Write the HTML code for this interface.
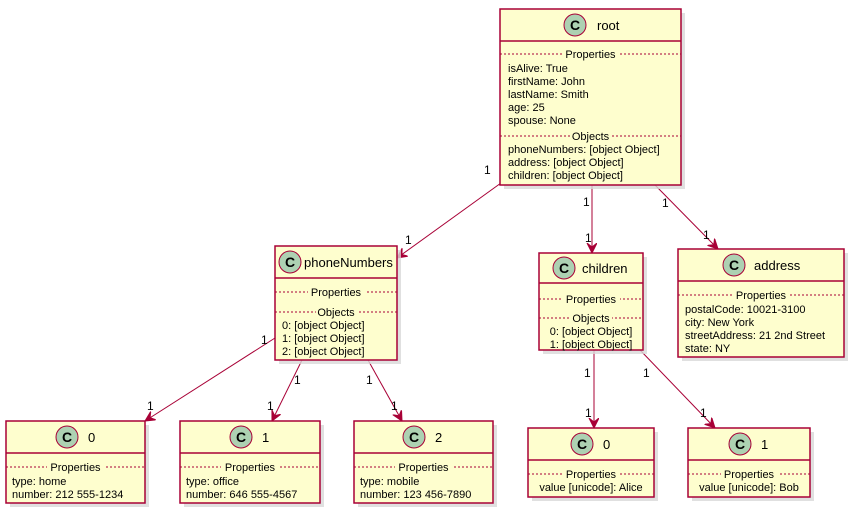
<!DOCTYPE html>
<html><head><meta charset="utf-8"><style>
html,body{margin:0;padding:0;background:#fff;}
svg{display:block;font-family:"Liberation Sans","DejaVu Sans",sans-serif;}
.b{fill:#FEFECE;stroke:#A80036;stroke-width:1.5;}
.s{fill:#d8d8d8;opacity:.8}
.h{stroke:#A80036;stroke-width:1.5;}
.d{stroke:#A80036;stroke-width:1;stroke-dasharray:2,2;}
.c{fill:#ADD1B2;stroke:#A80036;stroke-width:1;}
.t{font-size:11px;fill:#000;}
.n{font-size:13px;fill:#000;}
.l{stroke:#A80036;stroke-width:1;fill:none;}
.lb{font-size:12px;fill:#000;}
.lab{fill:#FEFECE;}
</style></head><body>
<svg width="854" height="513" viewBox="0 0 854 513" xmlns="http://www.w3.org/2000/svg">
<defs>
<marker id="a" markerWidth="12" markerHeight="12" refX="10" refY="5" orient="auto" markerUnits="userSpaceOnUse">
<path d="M0,0 L10,5 L0,10 L4,5 Z" fill="#A80036" stroke="#A80036" stroke-width="1"/>
</marker>
</defs>

<!-- edges -->
<line class="l" x1="501" y1="183" x2="397" y2="258" marker-end="url(#a)"/>
<line class="l" x1="592" y1="185" x2="592" y2="253" marker-end="url(#a)"/>
<line class="l" x1="655" y1="185" x2="718" y2="249" marker-end="url(#a)"/>
<line class="l" x1="275" y1="338" x2="145" y2="421" marker-end="url(#a)"/>
<line class="l" x1="302" y1="360" x2="272" y2="421" marker-end="url(#a)"/>
<line class="l" x1="368" y1="360" x2="402" y2="421" marker-end="url(#a)"/>
<line class="l" x1="594" y1="350" x2="594" y2="428" marker-end="url(#a)"/>
<line class="l" x1="640" y1="350" x2="715" y2="428" marker-end="url(#a)"/>
<g class="lb">
<text x="484" y="174">1</text><text x="405" y="244">1</text>
<text x="583" y="206">1</text><text x="585" y="242">1</text>
<text x="662" y="207">1</text><text x="703" y="239">1</text>
<text x="261" y="344">1</text><text x="147" y="410">1</text>
<text x="294" y="384">1</text><text x="267" y="410">1</text>
<text x="366" y="384">1</text><text x="391" y="410">1</text>
<text x="584" y="377">1</text><text x="585" y="417">1</text>
<text x="643" y="377">1</text><text x="700" y="417">1</text>
</g>

<!-- root -->
<rect class="s" x="504" y="13" width="181" height="176"/>
<rect class="b" x="500" y="9" width="181" height="176"/>
<line class="h" x1="500" y1="41" x2="681" y2="41"/>
<circle class="c" cx="575" cy="25" r="11"/><text x="575" y="30" text-anchor="middle" font-size="14" font-weight="bold">C</text>
<text class="n" x="597" y="30">root</text>
<line class="d" x1="500" y1="54" x2="681" y2="54"/>
<rect class="lab" x="562" y="48" width="57" height="12"/><text class="t" x="590.5" y="58" text-anchor="middle">Properties</text>
<text class="t" x="508" y="72">isAlive: True</text>
<text class="t" x="508" y="85">firstName: John</text>
<text class="t" x="508" y="98">lastName: Smith</text>
<text class="t" x="508" y="111">age: 25</text>
<text class="t" x="508" y="124">spouse: None</text>
<line class="d" x1="500" y1="136" x2="681" y2="136"/>
<rect class="lab" x="570" y="130" width="41" height="12"/><text class="t" x="590.5" y="140" text-anchor="middle">Objects</text>
<text class="t" x="508" y="153">phoneNumbers: [object Object]</text>
<text class="t" x="508" y="166">address: [object Object]</text>
<text class="t" x="508" y="179">children: [object Object]</text>

<!-- phoneNumbers -->
<rect class="s" x="279" y="250" width="122" height="114"/>
<rect class="b" x="275" y="246" width="122" height="114"/>
<line class="h" x1="275" y1="278" x2="397" y2="278"/>
<circle class="c" cx="290" cy="262" r="11"/><text x="290" y="267" text-anchor="middle" font-size="14" font-weight="bold">C</text>
<text class="n" x="304" y="267">phoneNumbers</text>
<line class="d" x1="275" y1="292" x2="397" y2="292"/>
<rect class="lab" x="308" y="286" width="57" height="12"/><text class="t" x="336" y="296" text-anchor="middle">Properties</text>
<line class="d" x1="275" y1="312" x2="397" y2="312"/>
<rect class="lab" x="316" y="306" width="41" height="12"/><text class="t" x="336" y="316" text-anchor="middle">Objects</text>
<text class="t" x="282" y="329">0: [object Object]</text>
<text class="t" x="282" y="342">1: [object Object]</text>
<text class="t" x="282" y="355">2: [object Object]</text>

<!-- children -->
<rect class="s" x="543" y="257" width="104" height="97"/>
<rect class="b" x="539" y="253" width="104" height="97"/>
<line class="h" x1="539" y1="283" x2="643" y2="283"/>
<circle class="c" cx="564" cy="268" r="11"/><text x="564" y="273" text-anchor="middle" font-size="14" font-weight="bold">C</text>
<text class="n" x="582" y="273">children</text>
<line class="d" x1="539" y1="299" x2="643" y2="299"/>
<rect class="lab" x="563" y="293" width="57" height="12"/><text class="t" x="591" y="303" text-anchor="middle">Properties</text>
<line class="d" x1="539" y1="318" x2="643" y2="318"/>
<rect class="lab" x="571" y="312" width="41" height="12"/><text class="t" x="591" y="322" text-anchor="middle">Objects</text>
<text class="t" x="591" y="335" text-anchor="middle">0: [object Object]</text>
<text class="t" x="591" y="348" text-anchor="middle">1: [object Object]</text>

<!-- address -->
<rect class="s" x="682" y="253" width="166" height="108"/>
<rect class="b" x="678" y="249" width="166" height="108"/>
<line class="h" x1="678" y1="281" x2="844" y2="281"/>
<circle class="c" cx="734" cy="265" r="11"/><text x="734" y="270" text-anchor="middle" font-size="14" font-weight="bold">C</text>
<text class="n" x="754" y="270">address</text>
<line class="d" x1="678" y1="295" x2="844" y2="295"/>
<rect class="lab" x="733" y="289" width="57" height="12"/><text class="t" x="761" y="299" text-anchor="middle">Properties</text>
<text class="t" x="685" y="313">postalCode: 10021-3100</text>
<text class="t" x="685" y="326">city: New York</text>
<text class="t" x="685" y="339">streetAddress: 21 2nd Street</text>
<text class="t" x="685" y="352">state: NY</text>

<!-- leaf 0 -->
<rect class="s" x="10" y="425" width="139" height="82"/>
<rect class="b" x="6" y="421" width="139" height="82"/>
<line class="h" x1="6" y1="453" x2="145" y2="453"/>
<circle class="c" cx="67" cy="437" r="11"/><text x="67" y="442" text-anchor="middle" font-size="14" font-weight="bold">C</text>
<text class="n" x="88" y="442">0</text>
<line class="d" x1="6" y1="467" x2="145" y2="467"/>
<rect class="lab" x="47" y="461" width="57" height="12"/><text class="t" x="75.5" y="471" text-anchor="middle">Properties</text>
<text class="t" x="12" y="485">type: home</text>
<text class="t" x="12" y="498">number: 212 555-1234</text>

<!-- leaf 1 -->
<rect class="s" x="184" y="425" width="140" height="82"/>
<rect class="b" x="180" y="421" width="140" height="82"/>
<line class="h" x1="180" y1="453" x2="320" y2="453"/>
<circle class="c" cx="241" cy="437" r="11"/><text x="241" y="442" text-anchor="middle" font-size="14" font-weight="bold">C</text>
<text class="n" x="262" y="442">1</text>
<line class="d" x1="180" y1="467" x2="320" y2="467"/>
<rect class="lab" x="221" y="461" width="57" height="12"/><text class="t" x="250" y="471" text-anchor="middle">Properties</text>
<text class="t" x="186" y="485">type: office</text>
<text class="t" x="186" y="498">number: 646 555-4567</text>

<!-- leaf 2 -->
<rect class="s" x="358" y="425" width="139" height="82"/>
<rect class="b" x="354" y="421" width="139" height="82"/>
<line class="h" x1="354" y1="453" x2="493" y2="453"/>
<circle class="c" cx="414" cy="437" r="11"/><text x="414" y="442" text-anchor="middle" font-size="14" font-weight="bold">C</text>
<text class="n" x="435" y="442">2</text>
<line class="d" x1="354" y1="467" x2="493" y2="467"/>
<rect class="lab" x="395" y="461" width="57" height="12"/><text class="t" x="423.5" y="471" text-anchor="middle">Properties</text>
<text class="t" x="360" y="485">type: mobile</text>
<text class="t" x="360" y="498">number: 123 456-7890</text>

<!-- child 0 -->
<rect class="s" x="532" y="432" width="126" height="69"/>
<rect class="b" x="528" y="428" width="126" height="69"/>
<line class="h" x1="528" y1="460" x2="654" y2="460"/>
<circle class="c" cx="582" cy="444" r="11"/><text x="582" y="449" text-anchor="middle" font-size="14" font-weight="bold">C</text>
<text class="n" x="603" y="449">0</text>
<line class="d" x1="528" y1="474" x2="654" y2="474"/>
<rect class="lab" x="563" y="468" width="57" height="12"/><text class="t" x="591" y="478" text-anchor="middle">Properties</text>
<text class="t" x="591" y="491" text-anchor="middle">value [unicode]: Alice</text>

<!-- child 1 -->
<rect class="s" x="692" y="432" width="122" height="69"/>
<rect class="b" x="688" y="428" width="122" height="69"/>
<line class="h" x1="688" y1="460" x2="810" y2="460"/>
<circle class="c" cx="740" cy="444" r="11"/><text x="740" y="449" text-anchor="middle" font-size="14" font-weight="bold">C</text>
<text class="n" x="761" y="449">1</text>
<line class="d" x1="688" y1="474" x2="810" y2="474"/>
<rect class="lab" x="721" y="468" width="57" height="12"/><text class="t" x="749" y="478" text-anchor="middle">Properties</text>
<text class="t" x="749" y="491" text-anchor="middle">value [unicode]: Bob</text>
</svg>
</body></html>
